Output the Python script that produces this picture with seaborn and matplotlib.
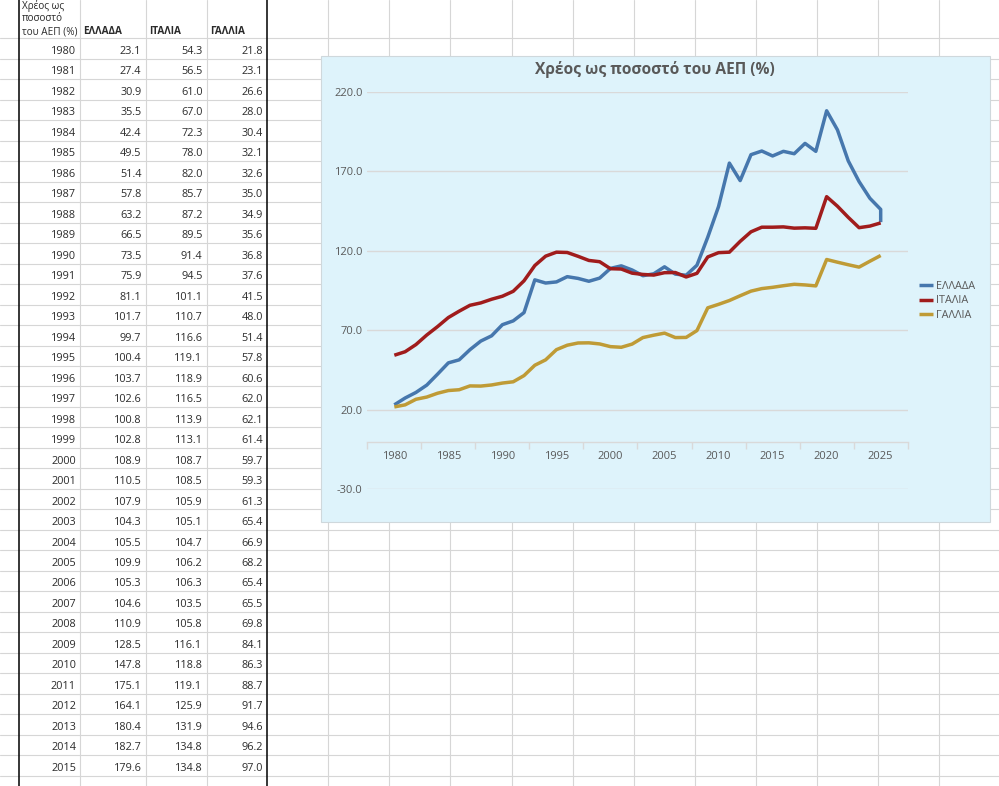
import numpy as np
import pandas as pd
import matplotlib
matplotlib.use('Agg')
import matplotlib.pyplot as plt
import seaborn as sns
from matplotlib.patches import Rectangle

years = list(range(1980, 2026))
greece = [23.1, 27.4, 30.9, 35.5, 42.4, 49.5, 51.4, 57.8, 63.2, 66.5,
          73.5, 75.9, 81.1, 101.7, 99.7, 100.4, 103.7, 102.6, 100.8, 102.8,
          108.9, 110.5, 107.9, 104.3, 105.5, 109.9, 105.3, 104.6, 110.9, 128.5,
          147.8, 175.1, 164.1, 180.4, 182.7, 179.6,
          182.5, 181.0, 187.5, 182.5, 208.0, 196.0, 176.5, 163.5, 153.0, 146.0]
italy = [54.3, 56.5, 61.0, 67.0, 72.3, 78.0, 82.0, 85.7, 87.2, 89.5,
         91.4, 94.5, 101.1, 110.7, 116.6, 119.1, 118.9, 116.5, 113.9, 113.1,
         108.7, 108.5, 105.9, 105.1, 104.7, 106.2, 106.3, 103.5, 105.8, 116.1,
         118.8, 119.1, 125.9, 131.9, 134.8, 134.8,
         135.0, 134.2, 134.4, 134.1, 154.0, 148.0, 141.0, 134.5, 135.5, 137.5]
france = [21.8, 23.1, 26.6, 28.0, 30.4, 32.1, 32.6, 35.0, 34.9, 35.6,
          36.8, 37.6, 41.5, 48.0, 51.4, 57.8, 60.6, 62.0, 62.1, 61.4,
          59.7, 59.3, 61.3, 65.4, 66.9, 68.2, 65.4, 65.5, 69.8, 84.1,
          86.3, 88.7, 91.7, 94.6, 96.2, 97.0,
          98.0, 98.9, 98.5, 97.9, 114.5, 112.8, 111.2, 109.7, 113.4, 117.0]
# the greek line drops straight down at its last year
greece_tail = 138.0

names = ['ΕΛΛΑΔΑ', 'ΙΤΑΛΙΑ', 'ΓΑΛΛΙΑ']
colors = ['#4677ad', '#a01c1c', '#bf9b36']
table_years = years[:36]   # sheet shows 1980-2015

sns.set_theme(style='white')
plt.rcParams['font.family'] = ['Open Sans', 'DejaVu Sans']

W, H = 999, 786
fig = plt.figure(figsize=(W / 100, H / 100), dpi=100)

# spreadsheet behind the chart, in pixel coordinates
sheet = fig.add_axes([0, 0, 1, 1])
sheet.set_xlim(0, W)
sheet.set_ylim(H, 0)
sheet.axis('off')

grid_c = '#d6d6d6'
row_top = 38.3
row_h = 20.48
col_x = [80, 145.7, 206.7] + [267.3 + 61.05 * k for k in range(1, 13)]
for k in range(37):
    y = row_top + k * row_h
    sheet.plot([0, W], [y, y], color=grid_c, lw=0.8, zorder=1)
for x in col_x:
    sheet.plot([x, x], [0, H], color=grid_c, lw=0.8, zorder=1)
for x in [19.3, 267.3]:
    sheet.plot([x, x], [0, H], color='black', lw=1.1, zorder=2)

txt_c = '#2b2b2b'
for i, line in enumerate(['Χρέος ως', 'ποσοστό', 'του ΑΕΠ (%)']):
    sheet.text(22, 6 + i * 12.8, line, fontsize=7.2, color=txt_c, ha='left', va='center')
for x, n in zip([83, 149, 210], names):
    sheet.text(x, 31.5, n, fontsize=7.2, fontweight='bold', color=txt_c, ha='left', va='center')

for i, yr in enumerate(table_years):
    yc = row_top + i * row_h + 13.2
    sheet.text(76, yc, str(yr), fontsize=7.8, color=txt_c, ha='right', va='center')
    for x, vals in zip([141.5, 202.5, 263], [greece, italy, france]):
        sheet.text(x, yc, f'{vals[i]:.1f}', fontsize=7.8, color=txt_c, ha='right', va='center')

# chart box
sheet.add_patch(Rectangle((320.5, 56), 669.5, 466, facecolor='#def3fb',
                          edgecolor='#cfd8dc', lw=0.8, zorder=3))
sheet.text(655, 70, 'Χρέος ως ποσοστό του ΑΕΠ (%)', fontsize=11.2, fontweight='bold',
           color='#595959', ha='center', va='center', zorder=5)

# plot area
left, right, top, bottom = 367.3, 907.7, 91.7, 489.3
ax = fig.add_axes([left / W, 1 - bottom / H, (right - left) / W, (bottom - top) / H])
ax.patch.set_alpha(0)

sns.lineplot(x=years + [2025], y=greece + [greece_tail], ax=ax, color=colors[0],
             lw=2.5, estimator=None, sort=False, label=names[0])
sns.lineplot(x=years, y=italy, ax=ax, color=colors[1], lw=2.5,
             estimator=None, sort=False, label=names[1])
sns.lineplot(x=years, y=france, ax=ax, color=colors[2], lw=2.5,
             estimator=None, sort=False, label=names[2])
for ln in ax.get_lines():
    ln.set_solid_joinstyle('round')
    ln.set_solid_capstyle('butt')

ax.set_xlim(1977.5, 2027.5)
ax.set_ylim(-30, 220)
yt = list(range(-30, 221, 50))
ax.set_yticks(yt)
ax.set_yticklabels([f'{v:.1f}' for v in yt])
ax.set_xticks(list(range(1980, 2026, 5)))
ax.set_xticks(list(np.arange(1977.5, 2028, 5)), minor=True)
ax.set_xlabel('')
ax.set_ylabel('')
ax.yaxis.grid(True, color='#d9d9d9', lw=1.0)
ax.xaxis.grid(False)
for s in ['top', 'right', 'left']:
    ax.spines[s].set_visible(False)
ax.spines['bottom'].set_position(('data', 0))
ax.spines['bottom'].set_color('#d9d9d9')
ax.spines['bottom'].set_linewidth(1.0)
ax.tick_params(axis='x', which='major', length=0, pad=7, labelsize=8, labelcolor='#595959')
ax.tick_params(axis='x', which='minor', bottom=True, length=5, width=1.0,
               color='#d9d9d9', direction='out')
ax.tick_params(axis='y', length=0, pad=3.5, labelsize=8, labelcolor='#595959')

ax.legend(loc='center left', bbox_to_anchor=(919 / W, 1 - 301 / H),
          bbox_transform=fig.transFigure, frameon=False, fontsize=7.8,
          handlelength=1.3, handletextpad=0.25, labelspacing=0.3,
          borderpad=0, borderaxespad=0, labelcolor='#595959')

fig.savefig('out.png', dpi=100)
